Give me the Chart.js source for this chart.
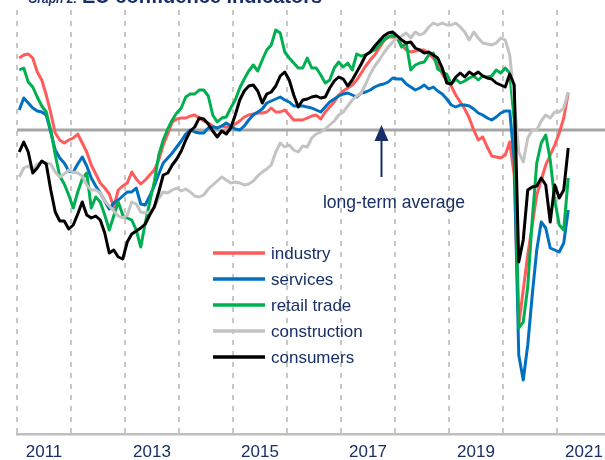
<!DOCTYPE html>
<html>
<head>
<meta charset="utf-8">
<script src="https://cdn.jsdelivr.net/npm/chart.js@4.4.1/dist/chart.umd.min.js"></script>
<style>
  html, body { margin: 0; padding: 0; background: #fff; }
  #wrap { width: 605px; height: 460px; }
</style>
</head>
<body>
<div id="wrap"><canvas id="chart" width="605" height="460"></canvas></div>
<script>
// EU confidence indicators, deviation from long-term average
// monthly, Jan 2011 - Mar 2021
const firstYear = 2011;

const industry = [
  7.2, 7.5, 7.6, 7.2, 5.8, 5.0, 3.5, 1.7, -0.3, -1.0, -1.3, -1.0,
  -0.8, -0.4, -1.3, -2.2, -3.5, -4.4, -5.3, -5.8, -6.4, -7.7, -6.0, -5.6,
  -5.3, -4.2, -4.9, -5.4, -5.0, -4.5, -4.0, -3.0, -1.5, -0.4, 0.8, 1.1,
  1.2, 1.2, 1.4, 1.5, 1.2, 0.9, 0.7, 0.4, 0.2, 0.4, 0.3, 0.3,
  0.6, 0.9, 1.3, 1.5, 1.6, 1.7, 1.7, 1.8, 2.2, 1.8, 1.8, 2.0,
  1.5, 1.0, 1.0, 1.0, 1.2, 1.4, 1.5, 1.1, 1.8, 2.3, 2.8, 3.5,
  3.9, 4.2, 4.5, 5.0, 5.7, 6.4, 7.0, 7.5, 8.2, 8.9, 9.3, 9.3,
  9.2, 8.5, 8.0, 7.8, 7.9, 8.0, 8.0, 7.6, 7.2, 6.6, 5.6, 5.0,
  4.4, 3.5, 2.8, 2.1, 1.2, 0.0, -1.0, -0.7, -1.7, -2.6, -2.7, -2.8,
  -2.5, -1.2, -4.5, -19.5, -16.0, -12.5, -9.5, -6.5, -5.0, -3.5, -2.5, -1.5,
  -0.3, 1.2, 3.7
];
const services = [
  2.0, 3.2, 2.7, 2.2, 1.9, 1.8, 1.5, -0.2, -2.0, -2.8, -3.3, -4.1,
  -4.2, -3.4, -2.7, -3.6, -4.8, -5.6, -6.3, -7.1, -7.9, -7.3, -7.0, -6.6,
  -6.2, -6.2, -5.8, -7.4, -7.5, -6.6, -5.6, -4.4, -3.3, -2.8, -2.3, -1.7,
  -1.1, -0.4, 0.0, -0.2, -0.3, -0.3, 0.2, 0.3, 0.2, 0.4, 0.7, 0.4,
  0.1, 0.0, 0.4, 1.0, 1.5, 1.8, 2.1, 2.7, 2.9, 3.1, 3.3, 3.0,
  2.8, 2.4, 2.4, 2.4, 2.3, 2.2, 2.0, 1.8, 2.3, 2.8, 3.1, 3.4,
  3.6, 3.7, 3.5, 3.3, 3.7, 3.8, 4.0, 4.3, 4.5, 4.6, 4.8, 5.2,
  5.1, 5.1, 4.6, 4.3, 4.0, 4.2, 4.5, 4.1, 4.3, 3.9, 3.6, 3.1,
  2.5, 2.3, 2.5, 2.5, 2.4, 2.1, 1.7, 1.5, 1.2, 1.0, 1.3, 1.7,
  1.9, 1.9, -3.0, -22.5, -25.0, -21.5, -16.5, -12.0, -9.2, -9.8, -11.8, -12.0,
  -12.2, -11.3, -8.0
];
const retailTrade = [
  6.0, 6.2, 4.8, 4.3, 3.3, 2.4, 1.8, 0.0, -2.5, -4.6, -5.4, -6.5,
  -7.8, -6.2, -4.9, -4.3, -7.8, -6.7, -7.2, -8.5, -10.0, -8.6, -7.2, -8.5,
  -8.8, -9.0, -10.0, -11.7, -9.3, -7.2, -5.2, -2.5, -1.0, 0.1, 1.0, 1.7,
  2.2, 3.3, 3.6, 3.6, 4.0, 4.0, 3.4, 1.5, 0.8, 1.2, 1.3, 2.2,
  3.0, 4.2, 5.1, 5.9, 6.5, 5.9, 7.0, 8.0, 8.5, 10.0, 9.7, 7.8,
  7.2, 6.7, 6.2, 6.2, 7.2, 6.2, 6.2, 5.5, 4.7, 5.0, 6.2, 6.8,
  6.3, 6.7, 6.0, 7.6, 7.4, 7.5, 7.8, 8.0, 8.5, 9.0, 9.3, 9.5,
  9.2, 8.3, 8.7, 6.0, 6.5, 6.7, 6.8, 7.5, 7.7, 6.1, 5.8, 5.6,
  4.6, 5.1, 4.7, 4.9, 5.2, 5.4, 5.0, 5.4, 5.3, 5.4, 6.0, 5.7,
  6.2, 5.7, 1.0, -19.8, -19.2, -15.7, -9.0, -3.3, -1.3, -0.5, -3.0, -7.0,
  -9.5, -10.0, -4.8
];
const construction = [
  -4.7, -3.8, -3.6, -4.0, -3.4, -3.2, -3.3, -3.4, -4.2, -4.7, -4.4, -4.0,
  -4.2, -4.3, -4.6, -5.5, -6.0, -6.0, -6.3, -7.1, -7.6, -8.1, -8.6, -8.8,
  -8.5, -7.2, -7.4, -8.2, -8.3, -8.2, -7.8, -6.8, -6.2, -6.3, -6.0, -5.8,
  -6.1, -5.9, -6.2, -6.6, -6.7, -6.5, -5.9, -5.5, -5.1, -4.7, -5.0, -5.3,
  -5.2, -5.3, -5.5, -5.4, -5.1, -4.6, -4.2, -3.9, -3.5, -2.2, -1.3, -1.7,
  -1.5, -2.0, -2.2, -1.6, -1.7, -0.8, -0.4, -0.2, 0.1, 0.5, 0.9, 1.5,
  1.8, 2.4, 3.0, 3.4, 3.7, 4.6, 5.6, 6.4, 7.0, 7.7, 8.3, 8.8,
  9.2, 9.4, 9.7, 9.2, 9.8, 9.5, 9.7, 10.3, 10.7, 10.5, 10.7, 10.5,
  10.5, 10.7, 10.3, 9.8, 9.0, 9.8, 9.2, 8.7, 8.6, 8.5, 8.7, 9.2,
  9.0, 7.5, 3.0, -2.2, -3.2, -0.8, 0.0, 0.0, 0.9, 1.5, 1.2, 1.8,
  1.8, 2.2, 3.8
];
const consumers = [
  -2.2, -1.2, -2.2, -4.3, -3.8, -3.1, -3.4, -6.0, -8.2, -9.1, -9.1, -9.9,
  -9.5, -8.4, -7.2, -8.5, -8.8, -8.6, -9.0, -10.3, -12.3, -12.0, -12.7, -12.9,
  -11.2, -10.4, -10.1, -9.8, -9.4, -8.5, -7.7, -6.2, -4.5, -4.3, -3.5, -2.9,
  -2.1, -1.0, -0.1, 0.3, 1.2, 1.1, 0.6, -0.1, -0.7, -0.1, -0.4, 0.2,
  1.5, 3.0, 3.9, 4.4, 4.5, 3.9, 2.7, 3.6, 3.8, 4.4, 5.4, 5.8,
  5.0, 3.5, 2.3, 3.0, 3.1, 3.3, 3.4, 3.2, 3.3, 4.2, 4.9, 5.3,
  5.1, 4.4, 5.0, 5.8, 6.6, 7.5, 7.8, 8.4, 8.9, 9.4, 9.7, 9.8,
  9.4, 9.0, 8.7, 8.8, 8.2, 8.0, 7.7, 7.8, 7.5, 7.2, 6.2, 4.7,
  4.6, 5.3, 5.7, 5.3, 5.8, 5.5, 5.8, 5.4, 5.2, 5.1, 4.7, 4.5,
  4.3, 5.6, 4.5, -13.2, -11.0, -6.0, -5.7, -5.6, -4.8, -5.5, -9.2, -5.5,
  -6.8, -6.0, -1.8
];

const seriesNames = ['industry', 'services', 'retail trade', 'construction', 'consumers'];
const seriesColors = ['#FF5B5B', '#0070C0', '#00B050', '#C3C3C3', '#000000'];
const yearLabels = [2011, 2013, 2015, 2017, 2019, 2021];
const longTermAverage = 0;

const navy = '#172F66';
const textFont = '"Liberation Sans", Arial, sans-serif';
const xMax = 130.67;   // right edge of the visible plot, in months from Jan 2011
const arrowMonth = 81;

// month i is plotted in the middle of its month slot
const toPoints = arr => arr.map((v, i) => ({ x: i + 0.5, y: v }));

const allSeries = [industry, services, retailTrade, construction, consumers];
const datasets = allSeries.map((arr, k) => ({
  label: seriesNames[k],
  data: toPoints(arr),
  borderColor: seriesColors[k],
  borderWidth: 3,
  pointRadius: 0,
  borderJoinStyle: 'round',
  tension: 0,
  order: 5 - k // consumers on top, like the source
}));
datasets.push({
  label: 'long-term average',
  data: [{ x: 0, y: longTermAverage }, { x: xMax, y: longTermAverage }],
  borderColor: '#A6A6A6',
  borderWidth: 3,
  pointRadius: 0,
  order: 10
});

const decorations = {
  id: 'decorations',
  afterDatasetsDraw(chart) {
    const { ctx, scales } = chart;
    const xs = scales.x, ys = scales.y;
    ctx.save();

    // title, mostly cut off at the top edge
    ctx.fillStyle = navy;
    ctx.textAlign = 'left';
    ctx.textBaseline = 'alphabetic';
    ctx.font = 'bold italic 12px ' + textFont;
    ctx.fillText('Graph 2:', 28, 3);
    ctx.font = 'bold 20px ' + textFont;
    ctx.fillText('EU confidence indicators', 82, 3);

    // legend inside the plot
    ctx.font = '17px ' + textFont;
    ctx.textBaseline = 'middle';
    seriesNames.forEach((name, k) => {
      const ly = 253 + k * 26;
      ctx.strokeStyle = seriesColors[k];
      ctx.lineWidth = 3.5;
      ctx.beginPath();
      ctx.moveTo(213, ly);
      ctx.lineTo(265, ly);
      ctx.stroke();
      ctx.fillStyle = navy;
      ctx.fillText(name, 271, ly + 1);
    });

    // arrow pointing at the long-term average
    const ax = xs.getPixelForValue(arrowMonth);
    const tipY = ys.getPixelForValue(longTermAverage) - 5;
    ctx.strokeStyle = navy;
    ctx.fillStyle = navy;
    ctx.lineWidth = 2;
    ctx.beginPath();
    ctx.moveTo(ax, tipY + 14);
    ctx.lineTo(ax, tipY + 52);
    ctx.stroke();
    ctx.beginPath();
    ctx.moveTo(ax, tipY);
    ctx.lineTo(ax - 7, tipY + 16);
    ctx.lineTo(ax + 7, tipY + 16);
    ctx.closePath();
    ctx.fill();

    ctx.font = '17.5px ' + textFont;
    ctx.textAlign = 'center';
    ctx.textBaseline = 'alphabetic';
    ctx.fillText('long-term average', ax + 12.5, tipY + 83);
    ctx.restore();
  }
};

const yearTickValue = yr => (yr - firstYear) * 12 + 6;

new Chart(document.getElementById('chart').getContext('2d'), {
  type: 'line',
  data: { datasets: datasets },
  options: {
    responsive: false,
    animation: false,
    devicePixelRatio: 1,
    layout: { padding: { top: 10, left: 17, right: 0, bottom: -10 } },
    plugins: {
      legend: { display: false },
      tooltip: { enabled: false }
    },
    scales: {
      x: {
        type: 'linear',
        min: 0,
        max: xMax,
        afterBuildTicks: scale => {
          const t = [];
          for (let v = 0; v <= 126; v += 6) t.push({ value: v });
          scale.ticks = t;
        },
        afterFit: scale => {
          // the plot runs off the right edge in the source, no room kept for labels
          scale.paddingLeft = 0;
          scale.paddingRight = 0;
        },
        ticks: {
          autoSkip: false,
          maxRotation: 0,
          minRotation: 0,
          padding: 9.5,
          color: navy,
          font: { family: textFont, size: 17, lineHeight: 1 },
          callback: value => {
            const yr = yearLabels.find(y => yearTickValue(y) === value);
            return yr ? String(yr) : '';
          }
        },
        grid: {
          drawTicks: false,
          lineWidth: 2,
          color: c => (c.tick && c.tick.value % 12 === 0) ? '#C8C8C8' : 'rgba(0,0,0,0)'
        },
        border: { display: true, color: '#BFBFBF', width: 2.5, dash: [5, 6] }
      },
      y: {
        display: false,
        min: -30.4,
        max: 12
      }
    }
  },
  plugins: [decorations]
});
</script>
</body>
</html>
